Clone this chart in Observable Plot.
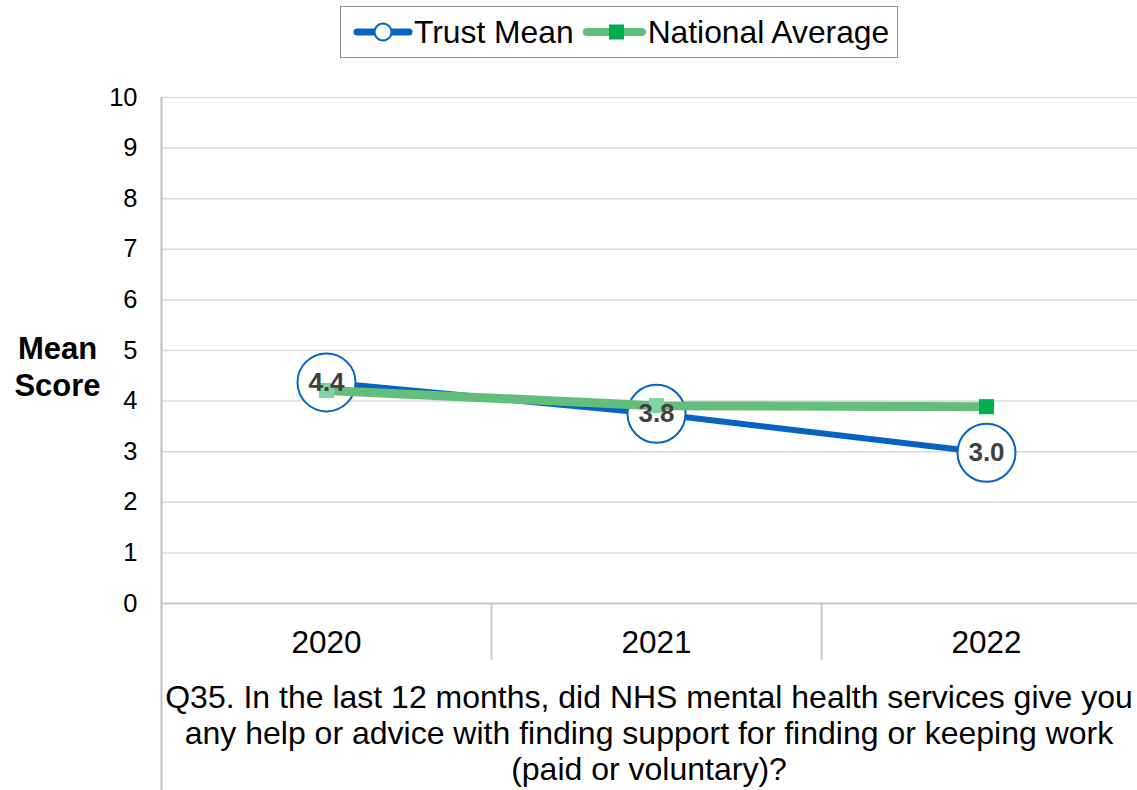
<!DOCTYPE html>
<html>
<head>
<meta charset="utf-8">
<script src="https://cdn.jsdelivr.net/npm/d3@7"></script>
<script src="https://cdn.jsdelivr.net/npm/@observablehq/plot@0.6"></script>
<style>
  html, body { margin: 0; padding: 0; background: #fff; }
  body { font-family: "Liberation Sans", Arial, sans-serif; }
  #wrap { position: relative; width: 1137px; height: 790px; overflow: hidden; }
  #legend { position: absolute; left: 340px; top: 6px; width: 558px; height: 52px; border: 1.5px solid #8c8c8c; box-sizing: border-box; display: flex; align-items: center; font-size: 31.8px; color: #000; white-space: nowrap; }
  #legend .item { display: flex; align-items: center; }
  #ylabel { position: absolute; left: 0; width: 115px; top: 330px; text-align: center; font-weight: bold; font-size: 31px; line-height: 37px; color: #000; }
  #xtitle { position: absolute; left: 161px; width: 976px; top: 679px; text-align: center; font-size: 32px; line-height: 36px; color: #000; white-space: nowrap; }
</style>
</head>
<body>
<div id="wrap">
  <div id="chart"></div>
  <div id="legend">
    <div class="item" style="margin-left:12px">
      <svg width="60" height="22"><line x1="4" y1="11" x2="56" y2="11" stroke="#0563C1" stroke-width="7" stroke-linecap="round"/><circle cx="30" cy="11" r="8.5" fill="#fff" stroke="#0563C1" stroke-width="2"/></svg>
      <span style="margin-left:1px">Trust Mean</span>
    </div>
    <div class="item" style="margin-left:8px">
      <svg width="64" height="22"><line x1="5" y1="11" x2="60" y2="11" stroke="#63BE7B" stroke-width="8" stroke-linecap="round"/><rect x="27" y="3.5" width="15" height="15" fill="#00B050"/></svg>
      <span style="margin-left:2px">National Average</span>
    </div>
  </div>
  <div id="ylabel">Mean<br>Score</div>
  <div id="xtitle">Q35. In the last 12 months, did NHS mental health services give you<br>any help or advice with finding support for finding or keeping work<br>(paid or voluntary)?</div>
</div>
<script>
const years = ["2020", "2021", "2022"];
const trustMean = [4.37, 3.75, 2.98];
const trustLabels = ["4.4", "3.8", "3.0"];
const nationalAverage = [4.21, 3.91, 3.89];
const nationalMarkerColors = ["#7FD4A0", "#7FD4A0", "#00B050"];
const yTicks = [0, 1, 2, 3, 4, 5, 6, 7, 8, 9, 10];
const gridTicks = [1, 2, 3, 4, 5, 6, 7, 8, 9, 10];

const trust = years.map((y, i) => ({pos: i + 0.5, year: y, value: trustMean[i], label: trustLabels[i]}));
const national = years.map((y, i) => ({pos: i + 0.5, year: y, value: nationalAverage[i], color: nationalMarkerColors[i]}));
const separators = [1, 2];

const chart = Plot.plot({
  width: 1137,
  height: 790,
  marginTop: 97,
  marginBottom: 187,
  marginLeft: 161,
  marginRight: 0,
  style: {fontFamily: '"Liberation Sans", Arial, sans-serif', fontSize: "24px", color: "#000", background: "transparent", overflow: "visible"},
  x: {type: "linear", domain: [0, 3], range: [161, 1151]},
  y: {domain: [0, 10], range: [603, 97]},
  marks: [
    Plot.ruleY(gridTicks, {stroke: "#d9d9d9", strokeWidth: 1.5}),
    Plot.ruleX(separators, {x: d => d, y1: 0, y2: -1.12, stroke: "#c8c8c8", strokeWidth: 2}),
    Plot.ruleX([0], {x: d => d, y1: -3.8, y2: 10, stroke: "#bfbfbf", strokeWidth: 2}),
    Plot.ruleY([0], {stroke: "#c8c8c8", strokeWidth: 2}),
    Plot.axisY({ticks: yTicks, tickSize: 0, tickPadding: 24, fontSize: 25.5, label: null, tickFormat: d => String(d)}),
    Plot.axisX({ticks: [0.5, 1.5, 2.5], tickSize: 0, tickPadding: 27, fontSize: 31.5, label: null, tickFormat: d => years[Math.floor(d)]}),
    Plot.line(trust, {x: "pos", y: "value", stroke: "#0563C1", strokeWidth: 6}),
    Plot.dot(trust, {x: "pos", y: "value", r: 29, fill: "#fff", stroke: "#0563C1", strokeWidth: 2}),
    Plot.line(national, {x: "pos", y: "value", stroke: "#63BE7B", strokeWidth: 9}),
    Plot.dot(national, {x: "pos", y: "value", symbol: "square", r: 8.5, fill: d => d.color, stroke: "none"}),
    Plot.text(trust, {x: "pos", y: "value", text: "label", fontSize: 26, fontWeight: "bold", fill: "#404040"})
  ]
});
document.getElementById("chart").appendChild(chart);
</script>
</body>
</html>
